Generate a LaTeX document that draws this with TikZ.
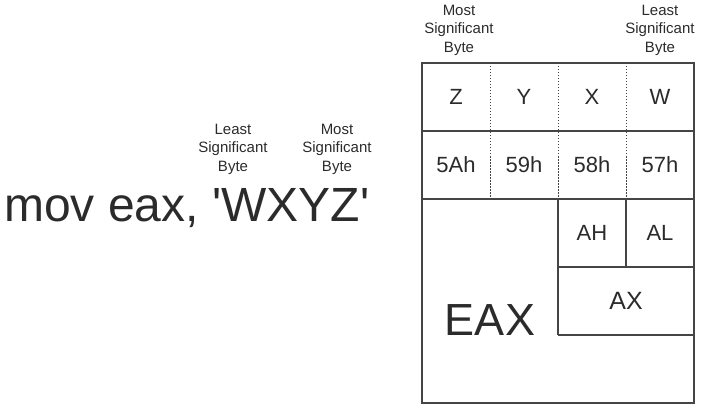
\documentclass[tikz,border=0pt]{standalone}
\usepackage{fontspec}
\setmainfont{Liberation Sans}
\usepackage{tikz}
\usetikzlibrary{positioning}
\definecolor{ink}{HTML}{2B2B2B}
\definecolor{rule}{HTML}{454545}

\begin{document}
\begin{tikzpicture}[x=1pt, y=-1pt,
    every node/.style={text=ink, inner sep=0pt},
    lbl/.style={align=center, font=\fontsize{15}{18.5}\selectfont},
    cell/.style={font=\fontsize{22}{26}\selectfont},
    grid/.style={draw=rule, line width=1.3pt},
    sep/.style={draw=rule, line width=0.9pt, dash pattern=on 1.5pt off 1.5pt}]
  \useasboundingbox (0,0) rectangle (707,409);
  % grid corners
  \foreach \i in {0,...,4} \foreach \j in {0,...,5} {
    \coordinate (g\i\j) at (422+68*\i, 63+68*\j);
  }
  \draw[grid] (g00) rectangle (g45);
  \draw[grid] (g01) -- (g41);
  \draw[grid] (g02) -- (g42);
  \draw[grid] (g23) -- (g43);
  \draw[grid] (g24) -- (g44);
  \draw[grid] (g22) -- (g24);
  \draw[grid] (g32) -- (g33);
  \foreach \i in {1,2,3} {
    \draw[sep] (g\i0) -- (g\i2);
  }
  % bytes
  \foreach \c/\x in {Z/456,Y/524,X/592,W/660} {
    \node[cell] (ch\c) at (\x,97) {\c};
  }
  \foreach \h/\x in {5A/456,59/524,58/592,57/660} {
    \node[cell] (hx\h) at (\x,165) {\h h};
  }
  \node[cell] (ah) at (592,233) {AH};
  \node[cell] (al) at (660,233) {AL};
  \node[font=\fontsize{25}{30}\selectfont] (ax) at (626,301) {AX};
  \node[font=\fontsize{45}{54}\selectfont] (eax) at (490,320) {EAX};
  % labels
  \node[lbl] (msbtop) at (459,30) {Most\\Significant\\Byte};
  \node[lbl] (lsbtop) at (660,30) {Least\\Significant\\Byte};
  \node[lbl] (lsbmov) at (233,149) {Least\\Significant\\Byte};
  \node[lbl] (msbmov) at (337,149) {Most\\Significant\\Byte};
  \node[anchor=base west, font=\fontsize{48}{56}\selectfont] (mov) at (4,222)
    {mov eax, \textquotesingle WXYZ\textquotesingle};
\end{tikzpicture}
\end{document}
